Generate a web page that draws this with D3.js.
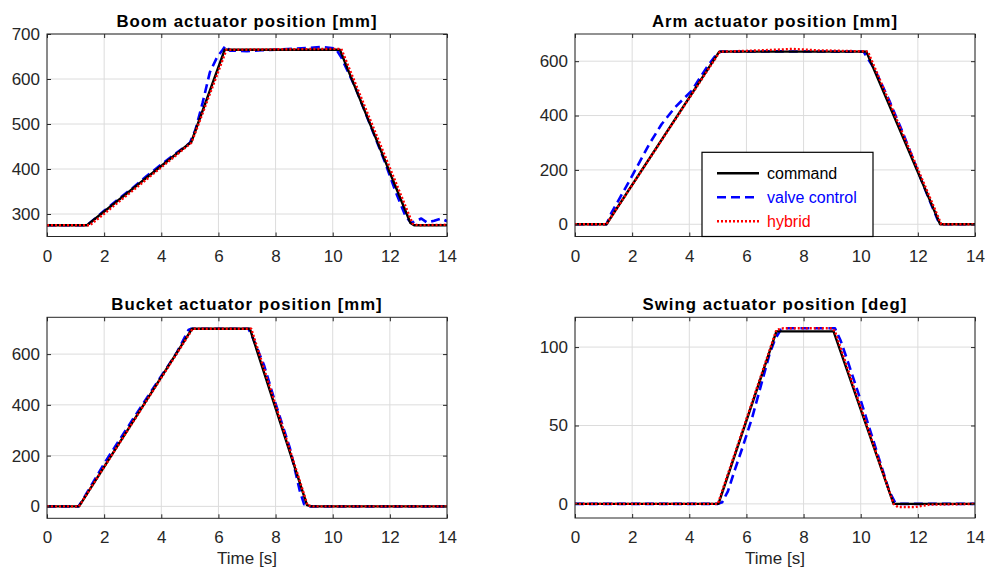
<!DOCTYPE html>
<html>
<head>
<meta charset="utf-8">
<script src="https://cdn.jsdelivr.net/npm/d3@7"></script>
<style>
  body { margin: 0; background: #fff; }
  svg text { font-family: "Liberation Sans", Arial, sans-serif; }
</style>
</head>
<body>
<div id="chart"></div>
<script>
// Boom actuator [mm]
const boomCmd   = [[0,275],[1.4,275],[5.05,460],[6.22,665],[10.25,665],[12.72,280],[12.85,275],[14,275]];
const boomValve = [[0,275],[1.4,275],[2,307],[2.5,333],[3,358],[3.5,385],[4,410],[4.5,434],[5,458],[5.2,488],[5.45,548],[5.7,615],[5.95,648],[6.15,665],[6.25,674],[6.4,663],[7,662],[7.5,664],[8,665],[8.6,667],[9.2,669],[9.6,671],[10.1,668],[10.3,648],[10.8,580],[11.3,500],[11.8,420],[12.2,350],[12.55,295],[12.75,280],[12.95,285],[13.1,290],[13.3,281],[13.55,285],[13.8,290],[14,284]];
const boomHyb   = [[0,275],[1.5,275],[3,352],[5.05,458],[5.2,482],[6.28,665],[8,666],[10.3,667],[12.8,278],[13,275],[14,276]];

// Arm actuator [mm]
const armCmd   = [[0,0],[1.1,0],[5.05,635],[10.2,635],[12.78,0],[14,0]];
const armValve = [[0,0],[1.1,0],[1.28,43],[1.87,153],[2.6,295],[3.03,368],[3.5,430],[4.08,491],[4.61,577],[4.96,626],[5.1,635],[7,636],[10.1,635],[10.5,568],[11,455],[11.5,330],[12,195],[12.4,90],[12.7,15],[12.9,0],[14,0]];
const armHyb   = [[0,0],[1.1,0],[5.07,635],[6,638],[7,642],[7.6,645],[8.5,640],[10.25,636],[12.82,0],[14,0]];

// Bucket actuator [mm]
const bucketCmd   = [[0,0],[1.12,0],[5.08,700],[7.1,700],[9.1,5],[9.25,0],[14,0]];
const bucketValve = [[0,0],[1.1,0],[1.25,25],[2.03,174],[3.31,396],[4.54,605],[4.95,695],[5.05,700],[7.05,700],[7.2,665],[7.6,555],[8,405],[8.5,230],[8.85,60],[9,8],[9.2,0],[14,0]];
const bucketHyb   = [[0,0],[1.12,0],[5.1,700],[7.15,700],[9.12,4],[9.3,0],[14,0]];

// Swing actuator [deg]
const swingCmd   = [[0,0],[5.02,0],[7.05,110],[9.05,110],[11.15,0],[14,0]];
const swingValve = [[0,0],[5.0,0],[5.15,1],[5.35,8],[5.6,22],[5.9,38],[6.2,55],[6.5,75],[6.8,95],[7.0,105],[7.2,111],[7.4,112],[9.1,112],[9.3,104],[9.6,88],[10,66],[10.5,37],[11,8],[11.2,1],[11.4,0],[14,0]];
const swingHyb   = [[0,0],[5.0,0],[7.05,111],[7.3,112],[9.0,112],[9.1,110],[11.15,0],[11.3,-2],[11.9,-2],[12.4,-0.5],[14,0]];

const xTicks = [0, 2, 4, 6, 8, 10, 12, 14];
const titles = ["Boom actuator position [mm]", "Arm actuator position [mm]",
                "Bucket actuator position [mm]", "Swing actuator position [deg]"];
const yDomains = [[250, 700], [-45, 700], [-47, 745], [-9, 119]];
const yTicksAll = [[300, 400, 500, 600, 700], [0, 200, 400, 600], [0, 200, 400, 600], [0, 50, 100]];
const seriesNames = ["command", "valve control", "hybrid"];

const panelData = [
  [boomCmd, boomValve, boomHyb],
  [armCmd, armValve, armHyb],
  [bucketCmd, bucketValve, bucketHyb],
  [swingCmd, swingValve, swingHyb]
];

// Panel boxes (left, top, right, bottom) in pixels
const boxes = [
  [47, 34, 447, 236.5],
  [575, 34, 975, 236.5],
  [47, 317.3, 447, 518.3],
  [575, 317.3, 975, 518]
];

const styles = {
  "command":       {stroke: "#000000", width: 2.4, dash: null},
  "valve control": {stroke: "#0000ff", width: 2.6, dash: "9,5"},
  "hybrid":        {stroke: "#ff0000", width: 2.4, dash: "2,2"}
};
const drawOrder = [1, 0, 2];   // blue below black, red dotted on top
const axisColor = "#262626";

const svg = d3.select("#chart").append("svg")
  .attr("width", 986)
  .attr("height", 567);

panelData.forEach((series, p) => {
  const [x0, y0, x1, y1] = boxes[p];
  const x = d3.scaleLinear().domain([0, 14]).range([x0, x1]);
  const y = d3.scaleLinear().domain(yDomains[p]).range([y1, y0]);
  const g = svg.append("g");

  // grid
  g.selectAll(".gx").data(xTicks).join("line")
    .attr("x1", d => x(d)).attr("x2", d => x(d))
    .attr("y1", y0).attr("y2", y1)
    .attr("stroke", "#dcdcdc").attr("stroke-width", 1);
  g.selectAll(".gy").data(yTicksAll[p]).join("line")
    .attr("x1", x0).attr("x2", x1)
    .attr("y1", d => y(d)).attr("y2", d => y(d))
    .attr("stroke", "#dcdcdc").attr("stroke-width", 1);

  // data lines
  const clipId = "clip" + p;
  svg.append("clipPath").attr("id", clipId).append("rect")
    .attr("x", x0).attr("y", y0).attr("width", x1 - x0).attr("height", y1 - y0);
  const line = d3.line().x(d => x(d[0])).y(d => y(d[1]));
  const lg = g.append("g").attr("clip-path", `url(#${clipId})`);
  drawOrder.forEach(i => {
    const st = styles[seriesNames[i]];
    lg.append("path")
      .datum(series[i])
      .attr("d", line)
      .attr("fill", "none")
      .attr("stroke", st.stroke)
      .attr("stroke-width", st.width)
      .attr("stroke-dasharray", st.dash)
      .attr("stroke-linejoin", "round");
  });

  // axes (ticks inside, box on)
  const fmt = d3.format("d");
  const bottom = g.append("g").attr("transform", `translate(0,${y1})`)
    .call(d3.axisBottom(x).tickValues(xTicks).tickFormat(fmt).tickSizeInner(-4).tickSizeOuter(0).tickPadding(13));
  const top = g.append("g").attr("transform", `translate(0,${y0})`)
    .call(d3.axisTop(x).tickValues(xTicks).tickFormat("").tickSizeInner(-4).tickSizeOuter(0));
  const left = g.append("g").attr("transform", `translate(${x0},0)`)
    .call(d3.axisLeft(y).tickValues(yTicksAll[p]).tickFormat(fmt).tickSizeInner(-4).tickSizeOuter(0).tickPadding(7));
  const right = g.append("g").attr("transform", `translate(${x1},0)`)
    .call(d3.axisRight(y).tickValues(yTicksAll[p]).tickFormat("").tickSizeInner(-4).tickSizeOuter(0));
  [bottom, top, left, right].forEach(a => {
    a.select(".domain").remove();
    a.selectAll("line").attr("stroke", axisColor);
    a.selectAll("text").attr("fill", axisColor).style("font-size", "17px");
  });

  g.append("rect")
    .attr("x", x0).attr("y", y0).attr("width", x1 - x0).attr("height", y1 - y0)
    .attr("fill", "none").attr("stroke", axisColor).attr("stroke-width", 1);

  // title
  g.append("text")
    .attr("x", (x0 + x1) / 2).attr("y", y0 - 7.5)
    .attr("text-anchor", "middle")
    .style("font-size", "16.8px").style("font-weight", "bold")
    .style("letter-spacing", "1px")
    .attr("fill", "#000")
    .text(titles[p]);

  if (p >= 2) {
    g.append("text")
      .attr("x", (x0 + x1) / 2).attr("y", y1 + 46)
      .attr("text-anchor", "middle")
      .style("font-size", "17px")
      .attr("fill", axisColor)
      .text("Time [s]");
  }
});

// legend in arm panel
const legend = svg.append("g").attr("transform", "translate(702,152.3)");
legend.append("rect")
  .attr("width", 171).attr("height", 84.2)
  .attr("fill", "#fff").attr("stroke", "#000").attr("stroke-width", 1.2);
seriesNames.forEach((name, i) => {
  const st = styles[name];
  const yy = 21 + i * 24;
  legend.append("line")
    .attr("x1", 15).attr("x2", 57).attr("y1", yy).attr("y2", yy)
    .attr("stroke", st.stroke).attr("stroke-width", st.width)
    .attr("stroke-dasharray", st.dash);
  legend.append("text")
    .attr("x", 65).attr("y", yy + 5.5)
    .style("font-size", "16px")
    .attr("fill", st.stroke)
    .text(name);
});
</script>
</body>
</html>
